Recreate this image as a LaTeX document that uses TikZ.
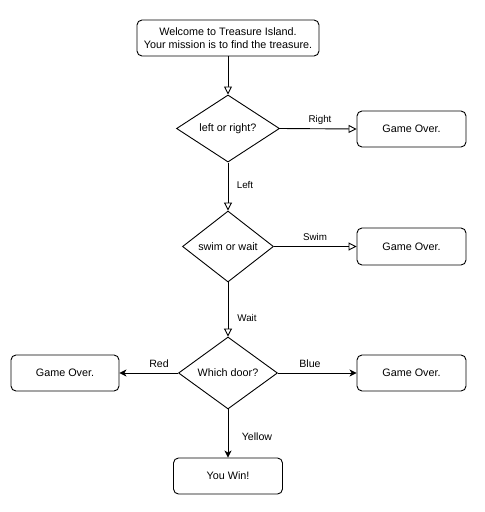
\documentclass[tikz,border=0pt]{standalone}
\usepackage{fontspec}
\setmainfont{Liberation Sans}
\usetikzlibrary{shapes.geometric,arrows.meta}
\begin{document}
\begin{tikzpicture}[x=1pt,y=-1pt,
  every node/.style={font=\fontsize{10.8}{13.5}\selectfont},
  box/.style={draw,rounded corners=5pt,line width=0.9pt,inner sep=0pt,align=center},
  dia/.style={draw,diamond,line width=0.9pt,inner sep=0pt,align=center},
  lbl/.style={font=\fontsize{9.8}{12}\selectfont,inner sep=0pt},
  lblb/.style={font=\fontsize{10.6}{12}\selectfont,inner sep=0pt},
  openarr/.style={line width=0.9pt,-{Triangle[open,length=8pt,width=8pt,fill=white]}},
  fillarr/.style={line width=0.9pt,-{Stealth[length=7pt,width=7pt,inset=2pt]}}]
\useasboundingbox (0,0) rectangle (485,512);
\node[box,minimum width=182pt,minimum height=36pt] (start) at (228,38)
  {Welcome to Treasure Island.\\Your mission is to find the treasure.};
\node[dia,minimum width=103pt,minimum height=63pt] (d1) at (228,128.5) {left or right?};
\node[dia,minimum width=91pt,minimum height=71pt] (d2) at (228,246.5) {swim or wait};
\node[dia,minimum width=99pt,minimum height=72pt] (d3) at (228,373) {Which door?};
\node[box,minimum width=109pt,minimum height=36pt] (go1) at (411.5,129) {Game Over.};
\node[box,minimum width=109pt,minimum height=37pt] (go2) at (411.5,246.5) {Game Over.};
\node[box,minimum width=108pt,minimum height=36pt] (goL) at (65,373) {Game Over.};
\node[box,minimum width=109pt,minimum height=36pt] (goR) at (411.5,373) {Game Over.};
\node[box,minimum width=109pt,minimum height=36pt] (win) at (228,476) {You Win!};
\draw[openarr] (start.south) -- (d1.north);
\draw[openarr] (d1.east) -- (go1.west);
\draw[openarr] (d1.south) -- (d2.north);
\draw[openarr] (d2.east) -- (go2.west);
\draw[openarr] (d2.south) -- (d3.north);
\draw[fillarr] (d3.west) -- (goL.east);
\draw[fillarr] (d3.east) -- (goR.west);
\draw[fillarr] (d3.south) -- (win.north);
\node[lbl] (lr) at (320,120) {Right};
\node[lbl] (ll) at (245,185) {Left};
\node[lbl] (ls) at (315,237) {Swim};
\node[lbl] (lw) at (247,318) {Wait};
\node[lblb] (lred) at (159,364) {Red};
\node[lblb] (lblue) at (310,364) {Blue};
\node[lblb] (ly) at (257,437) {Yellow};
\end{tikzpicture}
\end{document}
